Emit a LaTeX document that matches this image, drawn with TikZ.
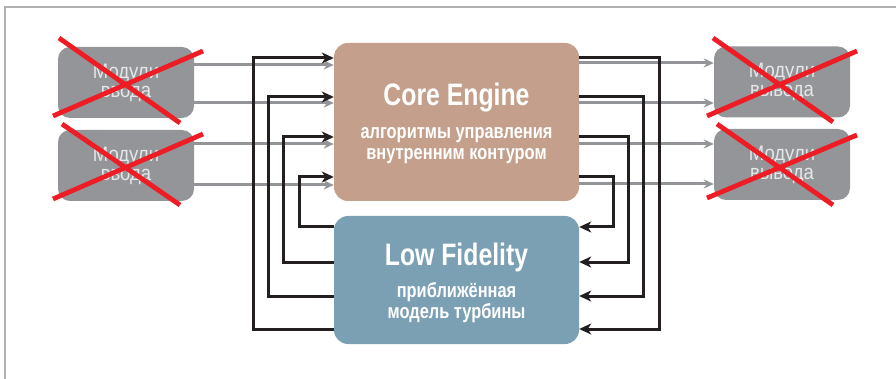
\documentclass[tikz,border=0pt]{standalone}
\usepackage{fontspec}
\setmainfont{Liberation Sans}
\newfontfamily\condb{Liberation Sans}[FakeStretch=0.8]
\newfontfamily\condl{Liberation Sans}[FakeStretch=0.88]
\usetikzlibrary{arrows.meta}
\definecolor{modgray}{HTML}{939598}
\definecolor{modtext}{HTML}{E6E7E8}
\definecolor{coreclr}{HTML}{C4A08C}
\definecolor{lfclr}{HTML}{7BA0B4}
\definecolor{xred}{HTML}{EE1C25}
\definecolor{framegray}{HTML}{B0B0B0}
\definecolor{lineblk}{HTML}{231F20}
\tikzset{
  modbox/.style={fill=modgray, rounded corners=12pt, inner sep=0pt, minimum width=136pt, minimum height=71pt, text=modtext, align=center, font=\condl\fontsize{21}{19}\selectfont},
  bigbox/.style={rounded corners=14pt, inner sep=0pt, minimum width=245pt, text=white, align=center},
  titletext/.style={text=white, inner sep=0pt, font=\condb\bfseries\fontsize{31}{31}\selectfont},
  subtext/.style={text=white, inner sep=0pt, align=center, font=\condb\bfseries\fontsize{20.5}{21}\selectfont},
  grayarr/.style={draw=modgray, line width=3pt, -{Stealth[length=10pt,width=9pt,inset=3pt]}},
  blkarr/.style={draw=lineblk, line width=3pt, -{Stealth[length=12pt,width=11pt,inset=3.5pt]}},
  cross/.style={draw=xred, line width=4.8pt},
}
\begin{document}
\begin{tikzpicture}[x=1pt,y=-1pt]
\useasboundingbox (0,0) rectangle (896,379);
\draw[framegray, line width=1.4pt] (5,379) -- (5,7) -- (896,7);

% boxes
\node[modbox] (in1) at (126,82.5) {Модули\\ввода};
\node[modbox] (in2) at (126,165.5) {Модули\\ввода};
\node[modbox] (out1) at (782,82) {Модули\\вывода};
\node[modbox] (out2) at (782,164.5) {Модули\\вывода};

\node[bigbox, fill=coreclr, minimum height=158pt] (core) at (456.5,122) {};
\node[bigbox, fill=lfclr, minimum height=128pt] (lf) at (456.5,280) {};

\node[titletext] (coret) at (456.5,98) {Core Engine};
\node[subtext] (cores) at (456.5,145.5) {алгоритмы управления\\внутренним контуром};
\node[titletext] (lft) at (456.5,257) {Low Fidelity};
\node[subtext] (lfs) at (456.5,303) {приближённая\\модель турбины};

% levels
\coordinate (g1) at (0,65);
\coordinate (g2) at (0,103);
\coordinate (g3) at (0,144);
\coordinate (g4) at (0,185);
\coordinate (h1) at (0,63);
\coordinate (h2) at (0,103);
\coordinate (h3) at (0,144);
\coordinate (h4) at (0,184);
\coordinate (a1) at (0,58);
\coordinate (a2) at (0,97);
\coordinate (a3) at (0,137);
\coordinate (a4) at (0,177);
\coordinate (b1) at (0,227);
\coordinate (b2) at (0,262);
\coordinate (b3) at (0,296);
\coordinate (b4) at (0,329);
\coordinate (L1) at (253,0);
\coordinate (L2) at (268,0);
\coordinate (L3) at (283,0);
\coordinate (L4) at (299,0);
\coordinate (R1) at (613,0);
\coordinate (R2) at (628,0);
\coordinate (R3) at (643,0);
\coordinate (R4) at (659,0);

% gray arrows
\draw[grayarr] (in1.east |- g1) -- (core.west |- g1);
\draw[grayarr] (in1.east |- g2) -- (core.west |- g2);
\draw[grayarr] (in2.east |- g3) -- (core.west |- g3);
\draw[grayarr] (in2.east |- g4) -- (core.west |- g4);
\draw[grayarr] (core.east |- h1) -- (out1.west |- h1);
\draw[grayarr] (core.east |- h2) -- (out1.west |- h2);
\draw[grayarr] (core.east |- h3) -- (out2.west |- h3);
\draw[grayarr] (core.east |- h4) -- (out2.west |- h4);

% black feedback arrows left
\draw[blkarr] (lf.west |- b4) -- (L1 |- b4) -- (L1 |- a1) -- (core.west |- a1);
\draw[blkarr] (lf.west |- b3) -- (L2 |- b3) -- (L2 |- a2) -- (core.west |- a2);
\draw[blkarr] (lf.west |- b2) -- (L3 |- b2) -- (L3 |- a3) -- (core.west |- a3);
\draw[blkarr] (lf.west |- b1) -- (L4 |- b1) -- (L4 |- a4) -- (core.west |- a4);
% right
\draw[blkarr] (core.east |- a1) -- (R4 |- a1) -- (R4 |- b4) -- (lf.east |- b4);
\draw[blkarr] (core.east |- a2) -- (R3 |- a2) -- (R3 |- b3) -- (lf.east |- b3);
\draw[blkarr] (core.east |- a3) -- (R2 |- a3) -- (R2 |- b2) -- (lf.east |- b2);
\draw[blkarr] (core.east |- a4) -- (R1 |- a4) -- (R1 |- b1) -- (lf.east |- b1);

% red crosses
\draw[cross] (59,38) -- (180,123);
\draw[cross] (53,116) -- (203,51);
\draw[cross] (62,124) -- (180,205);
\draw[cross] (53,199) -- (203,134);
\draw[cross] (713,38) -- (833,122);
\draw[cross] (707,116) -- (857,51);
\draw[cross] (717,124) -- (833,205);
\draw[cross] (707,198) -- (857,135);
\end{tikzpicture}
\end{document}
